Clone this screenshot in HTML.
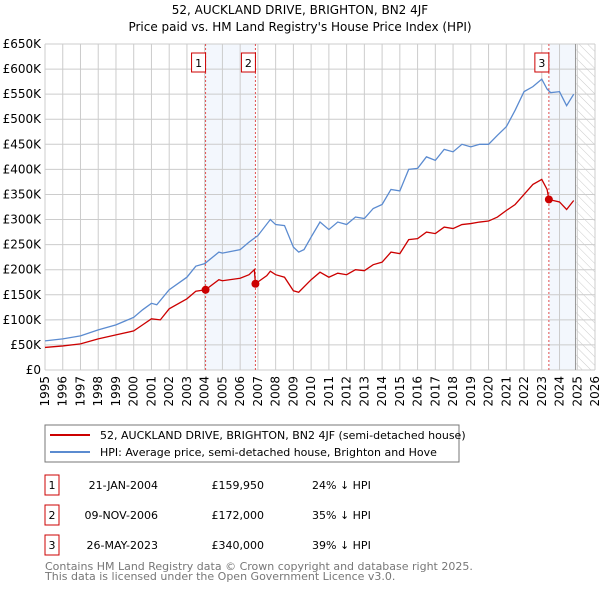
<!DOCTYPE html>
<html><head><meta charset="utf-8"><style>
body{margin:0;background:#fff;font-family:"DejaVu Sans","Liberation Sans",sans-serif;}
svg text{font-family:"DejaVu Sans","Liberation Sans",sans-serif;}
</style></head><body>
<svg id="c" width="600" height="590" viewBox="0 0 600 590" xmlns="http://www.w3.org/2000/svg">
<defs><pattern id="hatch" width="6" height="6" patternUnits="userSpaceOnUse" patternTransform="rotate(-45)"><line x1="0" y1="0" x2="0" y2="6" stroke="#ccc" stroke-width="1"/></pattern></defs>
<text x="300" y="14" text-anchor="middle" font-size="12">52, AUCKLAND DRIVE, BRIGHTON, BN2 4JF</text>
<text x="300" y="31" text-anchor="middle" font-size="12">Price paid vs. HM Land Registry's House Price Index (HPI)</text>
<g id="plot"></g>
<rect x="45" y="425" width="414" height="37" fill="#fff" stroke="#777"/>
<line x1="50" y1="435" x2="90" y2="435" stroke="#cc0000" stroke-width="2"/>
<text x="100" y="439" font-size="11">52, AUCKLAND DRIVE, BRIGHTON, BN2 4JF (semi-detached house)</text>
<line x1="50" y1="452" x2="90" y2="452" stroke="#5b8bd0" stroke-width="2"/>
<text x="100" y="456" font-size="11">HPI: Average price, semi-detached house, Brighton and Hove</text>
<g id="tbl" font-size="11"></g>
<text x="45" y="570" font-size="11" fill="#777">Contains HM Land Registry data © Crown copyright and database right 2025.</text>
<text x="45" y="580" font-size="11" fill="#777">This data is licensed under the Open Government Licence v3.0.</text>
</svg>
<script>
const hpiYears=[1995,1996,1997,1998,1999,2000,2000.5,2001,2001.3,2002,2003,2003.5,2004,2004.8,2005,2006,2006.5,2007,2007.7,2008,2008.5,2009,2009.3,2009.6,2010,2010.5,2011,2011.5,2012,2012.5,2013,2013.5,2014,2014.5,2015,2015.5,2016,2016.5,2017,2017.5,2018,2018.5,2019,2019.5,2020,2020.5,2021,2021.5,2022,2022.5,2023,2023.3,2023.5,2024,2024.4,2024.8];
const hpiValues=[58,62,68,80,90,105,120,133,130,160,185,207,212,235,233,240,255,268,300,290,288,245,235,240,265,295,280,295,290,305,302,322,330,360,357,400,402,425,418,440,435,450,445,450,450,468,485,518,555,565,580,560,553,555,527,550];
const ppYears=[1995,1996,1997,1998,1999,2000,2000.5,2001,2001.5,2002,2003,2003.5,2004.05,2004.8,2005,2006,2006.5,2006.8,2006.86,2007.5,2007.7,2008,2008.5,2009,2009.3,2010,2010.5,2011,2011.5,2012,2012.5,2013,2013.5,2014,2014.5,2015,2015.5,2016,2016.5,2017,2017.5,2018,2018.5,2019,2019.5,2020,2020.5,2021,2021.5,2022,2022.5,2023,2023.3,2023.4,2024,2024.4,2024.8];
const ppValues=[45,48,52,62,70,78,90,102,100,122,142,157,160,180,178,183,190,200,172,188,197,190,185,158,155,180,195,185,193,190,200,198,210,215,235,232,260,262,275,272,285,282,290,292,295,297,305,318,330,350,370,380,360,340,335,320,338];
const saleYears=[2004.05,2006.86,2023.4];
const saleValues=[159.95,172,340];
const saleLabels=["1","2","3"];
const saleDates=["21-JAN-2004","09-NOV-2006","26-MAY-2023"];
const salePrices=["£159,950","£172,000","£340,000"];
const salePcts=["24% ↓ HPI","35% ↓ HPI","39% ↓ HPI"];
const yTicks=[0,50,100,150,200,250,300,350,400,450,500,550,600,650];
const xTicks=[1995,1996,1997,1998,1999,2000,2001,2002,2003,2004,2005,2006,2007,2008,2009,2010,2011,2012,2013,2014,2015,2016,2017,2018,2019,2020,2021,2022,2023,2024,2025,2026];
const X0=45,X1=595,Y0=370,Y1=44;
const xs=y=>X0+(y-1995)/31*(X1-X0);
const ys=v=>Y0-v/650*(Y0-Y1);
const NS="http://www.w3.org/2000/svg";
const plot=document.getElementById('plot');
function mk(t,a,p){const e=document.createElementNS(NS,t);for(const k in a)e.setAttribute(k,a[k]);(p||plot).appendChild(e);return e;}
let r;
r=mk('rect',{x:xs(saleYears[0]),y:Y1,width:xs(saleYears[1])-xs(saleYears[0]),height:Y0-Y1,fill:'#f3f7fd'});


r=mk('rect',{x:xs(saleYears[2]),y:Y1,width:xs(2024.9)-xs(saleYears[2]),height:Y0-Y1,fill:'#f3f7fd'});


r=mk('rect',{x:xs(2024.9),y:Y1,width:X1-xs(2024.9),height:Y0-Y1,fill:'url(#hatch)'});


yTicks.forEach(v=>{
 const l=mk('line',{x1:X0,x2:X1,y1:ys(v),y2:ys(v),stroke:'#ccc'});
 
 
 const t=mk('text',{x:X0-4,y:ys(v)+4,'text-anchor':'end','font-size':12});
 
 
 t.textContent=v===0?'£0':'£'+v+'K';
});
xTicks.forEach(y=>{
 const l=mk('line',{x1:xs(y),x2:xs(y),y1:Y1,y2:Y0,stroke:'#ccc'});
 
 
 const t=mk('text',{x:0,y:0,'font-size':12,transform:`translate(${xs(y)+4},${Y0+6}) rotate(-90)`,'text-anchor':'end'});
 
 
 t.textContent=y;
});
r=mk('line',{x1:xs(2024.9),x2:xs(2024.9),y1:Y1,y2:Y0,stroke:'#999','stroke-width':1});


saleYears.forEach((y,i)=>{
 const l=mk('line',{x1:xs(y),x2:xs(y),y1:Y1,y2:Y0,stroke:'#e05050','stroke-dasharray':'2,2'});
 
 
 const b=mk('rect',{x:xs(y)-14,y:53,width:14,height:19,fill:'#fff',stroke:'#cc0000'});
 
 
 const t=mk('text',{x:xs(y)-7,y:67,'text-anchor':'middle','font-size':11});
 
 
 t.textContent=saleLabels[i];
});
const hp=mk('polyline',{points:hpiYears.map((y,i)=>xs(y)+','+ys(hpiValues[i])).join(' '),fill:'none',stroke:'#5b8bd0','stroke-width':1.3});


const pp=mk('polyline',{points:ppYears.map((y,i)=>xs(y)+','+ys(ppValues[i])).join(' '),fill:'none',stroke:'#cc0000','stroke-width':1.3});


saleYears.forEach((y,i)=>{
 const c=mk('circle',{cx:xs(y),cy:ys(saleValues[i]),r:4,fill:'#cc0000'});
 
 
});
const tbl=document.getElementById('tbl');
saleLabels.forEach((s,i)=>{
 const cy=483+i*30;
 const b=mk('rect',{x:45,y:cy-8,width:14,height:20,fill:'#fff',stroke:'#cc0000'},tbl);
 
 
 const cols=[[52,s,'middle'],[158,saleDates[i],'end'],[264,salePrices[i],'end'],[312,salePcts[i],'start']];
 cols.forEach(([x,txt,a],j)=>{
  const t=mk('text',{x:x,y:cy+6,'text-anchor':a},tbl);
  
  
  t.textContent=txt;
 });
});
</script>
</body></html>
